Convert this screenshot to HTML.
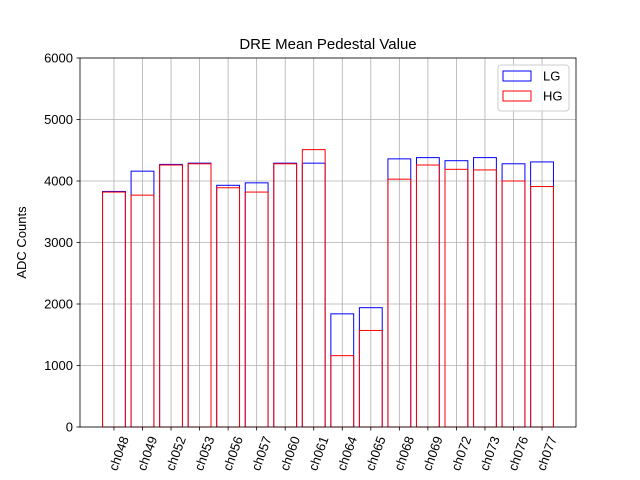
<!DOCTYPE html>
<html><head><meta charset="utf-8"><style>body{margin:0;background:#fff}svg{display:block;font-family:"Liberation Sans","DejaVu Sans",sans-serif}</style></head>
<body>
<svg id="chart" width="640" height="480" xmlns="http://www.w3.org/2000/svg"></svg>
<script>
const categories=["ch048","ch049","ch052","ch053","ch056","ch057","ch060","ch061","ch064","ch065","ch068","ch069","ch072","ch073","ch076","ch077"];
const lgValues=[3830,4160,4270,4290,3930,3970,4290,4290,1840,1940,4360,4380,4330,4380,4280,4310];
const hgValues=[3820,3770,4260,4280,3890,3820,4280,4510,1160,1570,4030,4260,4190,4180,4000,3910];
const yTicks=[0,1000,2000,3000,4000,5000,6000];
const NS="http://www.w3.org/2000/svg";
const svg=document.getElementById('chart');
const L=80,R=576,T=58,B=427;
const xmin=-1.19,xmax=categories.length-1+1.19;
const xs=i=>L+(i-xmin)/(xmax-xmin)*(R-L);
const ys=v=>B-v/6000*(B-T);
const unit=(R-L)/(xmax-xmin);
function el(tag,a,txt){const e=document.createElementNS(NS,tag);for(const k in a)e.setAttribute(k,a[k]);if(txt!=null)e.textContent=txt;svg.appendChild(e);return e;}
yTicks.forEach(t=>{const g=el('line',{x1:L,x2:R,y1:ys(t),y2:ys(t),stroke:'#b0b0b0','stroke-width':0.8});

});
categories.forEach((c,i)=>{const g=el('line',{x1:xs(i),x2:xs(i),y1:T,y2:B,stroke:'#b0b0b0','stroke-width':0.8});

});
const w=0.8*unit;
function bars(vals,color,name){vals.forEach((v,i)=>{const r=el('rect',{x:xs(i)-w/2,y:ys(v),width:w,height:B-ys(v),fill:'none',stroke:color,'stroke-width':1});

});}
bars(lgValues,'#0000ff','lg');
bars(hgValues,'#ff0000','hg');
const f=el('rect',{x:L,y:T,width:R-L,height:B-T,fill:'none',stroke:'#000','stroke-width':0.8});


yTicks.forEach(t=>{el('line',{x1:L-3.5,x2:L,y1:ys(t),y2:ys(t),stroke:'#000','stroke-width':0.8});
const tx=el('text',{x:L-7,y:ys(t)+4.5,'font-size':13,'text-anchor':'end'},t);

});
categories.forEach((c,i)=>{el('line',{x1:xs(i),x2:xs(i),y1:B,y2:B+3.5,stroke:'#000','stroke-width':0.8});
const x=xs(i)+6,y=B+8;
const tx=el('text',{x:x,y:y,'font-size':13,'text-anchor':'end',transform:`rotate(-70 ${x} ${y})`,'dominant-baseline':'hanging'},c);

});
const ti=el('text',{x:(L+R)/2,y:49,'font-size':15,'text-anchor':'middle'},'DRE Mean Pedestal Value');


const yl=el('text',{x:26,y:(T+B)/2,'font-size':13,'text-anchor':'middle',transform:`rotate(-90 26 ${(T+B)/2})`},'ADC Counts');


const lb=el('rect',{x:498,y:65,width:71,height:46,rx:3,fill:'#fff','fill-opacity':0.8,stroke:'#ccc','stroke-width':1});


[['LG','#0000ff',71],['HG','#ff0000',91]].forEach(([n,c,y])=>{
const p=el('rect',{x:503,y:y,width:28,height:10,fill:'none',stroke:c,'stroke-width':1});


const t=el('text',{x:543,y:y+9.5,'font-size':13},n);

});
</script>
</body></html>
